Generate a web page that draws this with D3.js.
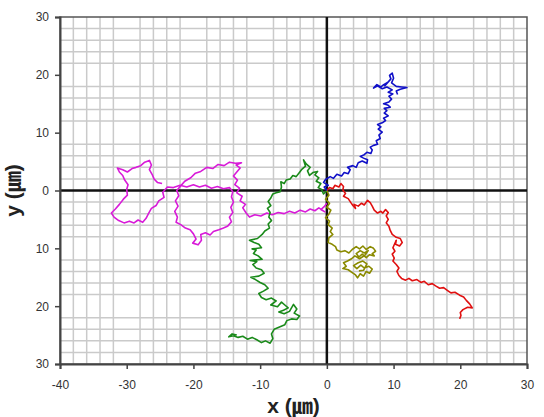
<!doctype html>
<html lang="en">
<head>
  <meta charset="UTF-8">
  <script src="https://cdn.jsdelivr.net/npm/d3@7"></script>
  <title>Cell tracks</title>
  <style>
    body { margin: 0; background: #fff; }
    .chart svg { display: block; }
    .axis text { font-family: "Liberation Sans", Arial, sans-serif; font-size: 12px; fill: #333; }
    .axis path, .axis line { stroke: #444; }
  </style>
</head>
<body>
  <div class="chart"></div>
  <script>
    // tick values
    const xTicks = [-40, -30, -20, -10, 0, 10, 20, 30];
    const yTicks = [-30, -20, -10, 0, 10, 20, 30];

    // tracks, in µm
    const blueTrack = [[0,0],[-0.4,0.6],[0.2,0.9],[-0.5,1.4],[-0.2,1.9],[0.5,2.4],[1.0,2.1],[1.5,2.8],[2.2,2.5],[2.6,3.1],[3.2,2.9],[3.5,3.6],[3.1,4.0],[3.9,4.3],[4.4,4.0],[4.7,4.8],[5.3,5.1],[6.0,4.7],[6.1,5.3],[5.5,5.6],[5.0,5.9],[5.6,6.2],[6.0,6.6],[6.6,6.4],[6.8,7.0],[6.5,7.5],[7.0,7.8],[7.6,8.0],[7.4,8.6],[8.0,9.0],[7.8,9.6],[8.3,10.1],[7.7,10.6],[8.1,11.0],[7.6,11.4],[8.3,11.7],[8.8,12.1],[8.5,12.5],[9.2,12.9],[8.6,13.4],[9.0,13.8],[8.6,14.2],[9.5,14.4],[9.1,14.8],[8.5,15.0],[9.3,15.3],[9.7,15.8],[9.3,16.3],[9.9,16.7],[9.2,17.0],[9.8,17.4],[9.0,17.9],[8.3,17.6],[7.6,18.1],[7.0,17.7],[7.5,18.3],[8.1,17.9],[8.4,18.2],[9.1,18.7],[8.7,18.1],[9.6,19.3],[9.4,19.9],[9.8,20.3],[10.0,19.4],[9.7,18.6],[10.4,18.0],[11.2,17.9],[12.0,17.8],[11.0,17.5],[10.4,17.2],[10.6,16.6]];
    const redTrack = [[0,0],[0.4,0.5],[0.9,0.3],[1.2,0.9],[1.8,0.6],[2.1,1.2],[2.5,0.7],[2.4,0.1],[2.8,-0.5],[2.5,-1.0],[3.2,-1.4],[3.6,-2.1],[3.9,-2.6],[4.3,-3.1],[4.1,-2.4],[4.7,-2.7],[5.2,-2.2],[5.6,-2.5],[6.1,-1.7],[6.5,-2.1],[6.8,-2.7],[7.1,-3.4],[7.6,-3.9],[8.1,-3.6],[8.4,-3.9],[8.8,-3.3],[9.2,-3.8],[8.9,-4.4],[9.2,-5.0],[8.9,-5.6],[9.3,-6.2],[9.5,-6.9],[9.8,-7.6],[10.4,-8.1],[11.0,-8.3],[11.3,-9.0],[10.9,-9.6],[10.3,-9.3],[10.4,-8.6],[9.9,-9.9],[10.2,-10.5],[9.8,-11.0],[10.1,-11.7],[9.9,-12.2],[10.4,-12.8],[10.8,-13.4],[10.5,-14.0],[10.8,-14.7],[11.2,-15.2],[11.8,-15.5],[12.3,-15.2],[12.8,-15.6],[13.5,-15.4],[14.1,-15.9],[14.6,-15.7],[15.2,-16.3],[15.8,-16.1],[16.3,-16.5],[16.9,-16.9],[17.5,-16.8],[18.1,-17.3],[18.6,-17.7],[19.2,-17.6],[19.9,-18.1],[20.5,-18.4],[20.9,-19.0],[21.4,-19.6],[21.8,-20.3],[21.1,-20.2],[20.4,-20.6],[20.0,-21.1],[20.1,-21.6],[19.9,-22.2]];
    const oliveTrack = [[0,0],[0.3,-0.8],[-0.2,-1.5],[0.4,-2.2],[0.0,-2.9],[0.6,-3.4],[0.3,-4.1],[-0.2,-4.7],[0.4,-5.3],[0.2,-5.9],[0.8,-6.5],[0.5,-7.1],[0.9,-7.6],[0.3,-8.2],[0.2,-9.0],[0.8,-9.3],[1.3,-9.7],[1.5,-10.3],[2.1,-10.6],[2.7,-10.4],[3.3,-10.8],[3.8,-10.2],[4.4,-9.7],[4.9,-10.1],[5.4,-9.6],[5.9,-10.2],[6.5,-9.7],[7.0,-10.0],[7.3,-10.5],[6.8,-10.9],[7.1,-11.3],[6.4,-11.1],[5.9,-11.6],[5.3,-11.0],[4.8,-11.5],[4.4,-10.9],[5.0,-10.4],[5.6,-10.8],[6.2,-10.4],[5.7,-11.2],[4.9,-11.8],[4.2,-11.3],[3.7,-11.8],[3.1,-12.2],[2.5,-12.5],[2.9,-13.1],[2.4,-13.5],[3.2,-13.7],[3.8,-14.2],[4.3,-14.6],[4.6,-15.1],[5.0,-14.4],[5.5,-14.8],[5.9,-14.0],[6.4,-14.3],[6.8,-13.6],[6.3,-13.1],[5.6,-13.4],[5.1,-12.9],[4.5,-13.5],[4.0,-13.0],[4.7,-12.5],[5.4,-12.2],[6.0,-12.7],[5.5,-13.8],[4.8,-13.9]];
    const greenTrack = [[0,0],[-0.5,-0.6],[-0.8,0.2],[-1.3,0.5],[-0.9,1.2],[-1.6,1.6],[-1.2,2.2],[-1.8,2.7],[-1.4,3.3],[-2.1,3.1],[-2.6,2.6],[-2.9,3.4],[-2.5,4.0],[-3.1,4.6],[-3.5,5.3],[-3.2,4.2],[-3.8,3.6],[-4.2,3.0],[-4.6,2.4],[-5.1,2.6],[-5.5,2.0],[-6.1,1.8],[-6.4,1.2],[-6.9,1.5],[-6.8,0.6],[-7.0,-0.2],[-7.6,-0.4],[-8.1,-0.6],[-8.4,-1.3],[-8.8,-1.9],[-8.4,-2.6],[-8.9,-3.1],[-8.5,-3.8],[-8.7,-4.6],[-8.3,-5.2],[-8.8,-5.8],[-8.6,-6.5],[-9.3,-7.0],[-9.7,-7.6],[-10.4,-8.3],[-11.6,-8.6],[-10.9,-9.0],[-10.2,-9.3],[-9.8,-9.9],[-11.2,-10.1],[-10.6,-10.3],[-11.0,-10.9],[-10.3,-11.3],[-9.7,-11.9],[-11.5,-12.1],[-10.5,-12.3],[-11.1,-12.8],[-10.6,-13.4],[-9.8,-13.7],[-9.4,-14.3],[-10.2,-14.8],[-11.4,-15.0],[-10.7,-15.4],[-10.0,-15.9],[-9.3,-16.3],[-8.8,-16.9],[-9.5,-17.4],[-10.2,-17.8],[-9.8,-18.5],[-9.1,-18.9],[-8.3,-18.6],[-7.6,-19.1],[-8.4,-19.8],[-7.4,-20.1],[-6.8,-19.3],[-6.3,-19.8],[-5.8,-20.3],[-6.5,-20.7],[-7.2,-21.0],[-6.4,-21.3],[-5.6,-20.9],[-5.0,-19.7],[-4.5,-20.5],[-4.9,-21.2],[-4.1,-21.7],[-4.5,-22.3],[-5.3,-22.2],[-6.0,-22.5],[-6.3,-23.2],[-7.1,-23.6],[-7.9,-24.0],[-8.3,-24.8],[-8.1,-25.6],[-8.5,-26.4],[-9.2,-26.0],[-9.8,-26.3],[-10.5,-25.8],[-11.2,-25.4],[-11.9,-25.7],[-12.6,-25.2],[-13.3,-25.4],[-14.0,-25.1],[-14.7,-25.3],[-14.2,-24.8],[-13.5,-25.0]];
    const magentaTrack = [[0,-2.2],[-0.4,-2.8],[-0.9,-3.3],[-0.3,-3.7],[-1.2,-3.0],[-1.8,-3.5],[-2.5,-3.2],[-3.2,-3.7],[-4.0,-3.4],[-4.8,-3.9],[-5.6,-3.6],[-6.4,-4.0],[-7.3,-3.8],[-8.2,-4.2],[-9.0,-3.9],[-9.9,-4.4],[-10.8,-4.2],[-11.6,-4.6],[-12.1,-3.9],[-12.6,-3.0],[-12.2,-2.4],[-13.0,-1.8],[-12.7,-1.0],[-13.5,-0.4],[-13.1,0.4],[-13.8,1.0],[-13.4,1.8],[-14.0,2.5],[-13.5,3.2],[-13.0,3.9],[-13.6,4.4],[-12.8,4.8],[-13.7,4.7],[-14.6,4.9],[-15.4,4.3],[-16.3,4.5],[-17.1,3.8],[-18.0,4.0],[-18.9,3.3],[-19.7,3.0],[-20.4,2.2],[-21.3,1.6],[-21.9,0.8],[-22.5,0.0],[-22.2,-0.9],[-22.7,-1.8],[-22.3,-2.7],[-22.8,-3.6],[-22.4,-4.6],[-22.6,-5.5],[-21.9,-5.9],[-21.2,-6.5],[-20.5,-6.8],[-20.0,-7.5],[-19.6,-8.4],[-20.1,-9.1],[-19.3,-9.4],[-18.8,-8.6],[-18.9,-7.6],[-18.2,-7.3],[-17.5,-7.7],[-17.0,-7.1],[-16.2,-6.8],[-15.5,-6.5],[-14.9,-6.2],[-14.3,-5.4],[-14.6,-4.6],[-14.1,-3.8],[-14.4,-2.9],[-14.0,-2.0],[-14.3,-1.1],[-14.1,-0.2],[-14.6,0.5],[-15.5,0.3],[-16.4,0.7],[-17.3,0.4],[-18.2,0.9],[-19.1,0.6],[-20.0,1.0],[-21.0,0.6],[-22.0,0.9],[-23.0,0.5],[-23.9,0.6],[-24.6,-0.3],[-24.4,-1.2],[-25.2,-1.8],[-25.6,-2.6],[-26.3,-3.1],[-26.7,-3.9],[-27.1,-4.8],[-27.6,-5.5],[-28.3,-5.1],[-28.9,-5.6],[-29.6,-5.3],[-30.4,-5.6],[-31.2,-5.2],[-31.9,-4.6],[-32.3,-3.9],[-31.7,-3.2],[-31.1,-2.4],[-30.5,-1.5],[-29.9,-0.8],[-30.0,0.2],[-29.8,1.0],[-30.3,1.8],[-30.6,2.6],[-31.1,3.2],[-31.4,3.9],[-30.6,3.6],[-29.9,3.2],[-29.2,3.8],[-28.6,4.0],[-27.9,4.3],[-27.3,4.9],[-26.6,5.2],[-26.3,4.4],[-26.6,3.6],[-26.2,2.8],[-25.9,2.0],[-25.4,1.4],[-24.7,1.2]];

    const tracks = [
      { pts: magentaTrack, color: '#d81bd8' },
      { pts: greenTrack, color: '#1a8a1a' },
      { pts: oliveTrack, color: '#8a8a00' },
      { pts: redTrack, color: '#e01010' },
      { pts: blueTrack, color: '#1010c8' }
    ];

    const bxSize = { w: 544, h: 417 };
    const margin = { top: 17, right: 17, bottom: 53, left: 60 };
    const [width, height] = [bxSize.w - margin.left - margin.right, bxSize.h - margin.top - margin.bottom];

    const root = d3.select('.chart').append('svg')
      .attr('width', bxSize.w).attr('height', bxSize.h);
    const svg = root.append('g').attr('transform', `translate(${margin.left} ${margin.top})`);

    const x = d3.scaleLinear().domain([-40, 30]).range([0, width]);
    const y = d3.scaleLinear().domain([-30, 30]).range([height, 0]);

    // minor grid every 2, none on the tens
    const gx = d3.range(-38, 30, 2).filter(v => v % 10 !== 0);
    const gy = d3.range(-28, 30, 2).filter(v => v % 10 !== 0);
    svg.append('g').selectAll('line').data(gx).enter().append('line')
      .attr('x1', d => x(d)).attr('x2', d => x(d)).attr('y1', 0).attr('y2', height)
      .attr('stroke', '#cacaca').attr('stroke-width', 1.5);
    svg.append('g').selectAll('line').data(gy).enter().append('line')
      .attr('y1', d => y(d)).attr('y2', d => y(d)).attr('x1', 0).attr('x2', width)
      .attr('stroke', '#cacaca').attr('stroke-width', 1.5);

    // frame
    svg.append('rect').attr('width', width).attr('height', height)
      .attr('fill', 'none').attr('stroke', '#555').attr('stroke-width', 1.5);

    // zero lines
    svg.append('line').attr('x1', x(0)).attr('x2', x(0)).attr('y1', 0).attr('y2', height)
      .attr('stroke', '#111').attr('stroke-width', 2.5);
    svg.append('line').attr('y1', y(0)).attr('y2', y(0)).attr('x1', 0).attr('x2', width)
      .attr('stroke', '#111').attr('stroke-width', 2.5);

    // tracks
    svg.append('clipPath').attr('id', 'clip').append('rect').attr('width', width).attr('height', height);
    const line = d3.line().x(d => x(d[0])).y(d => y(d[1]));
    const tg = svg.append('g').attr('clip-path', 'url(#clip)');
    tracks.forEach(t => {
      tg.append('path').attr('d', line(t.pts)).attr('fill', 'none')
        .attr('stroke', t.color).attr('stroke-width', 1.6).attr('stroke-linejoin', 'round');
    });

    // axes
    const yAxis = d3.axisLeft(y).tickValues(yTicks).tickSize(5).tickPadding(6).tickFormat(d => String(Math.abs(d)));
    const xAxis = d3.axisBottom(x).tickValues(xTicks).tickSize(5).tickPadding(11).tickFormat(d => String(d));
    const ya = svg.append('g').attr('class', 'axis').call(yAxis);
    const xa = svg.append('g').attr('class', 'axis').attr('transform', `translate(0, ${height})`).call(xAxis);
    [ya, xa].forEach(a => {
      a.select('.domain').attr('stroke-width', 2);
      a.selectAll('.tick line').attr('stroke-width', 1.5);
    });

    // titles
    root.append('text').attr('x', margin.left + width / 2).attr('y', 413)
      .attr('text-anchor', 'middle')
      .style('font-family', '"Liberation Sans", Arial, "Noto Sans CJK JP", sans-serif')
      .style('font-size', '21px').style('font-weight', 'bold').attr('fill', '#222')
      .text('x (㎛)');
    root.append('text').attr('transform', `translate(20 ${margin.top + height / 2}) rotate(-90)`)
      .attr('text-anchor', 'middle')
      .style('font-family', '"Liberation Sans", Arial, "Noto Sans CJK JP", sans-serif')
      .style('font-size', '21px').style('font-weight', 'bold').attr('fill', '#222')
      .text('y (㎛)');
  </script>
</body>
</html>
